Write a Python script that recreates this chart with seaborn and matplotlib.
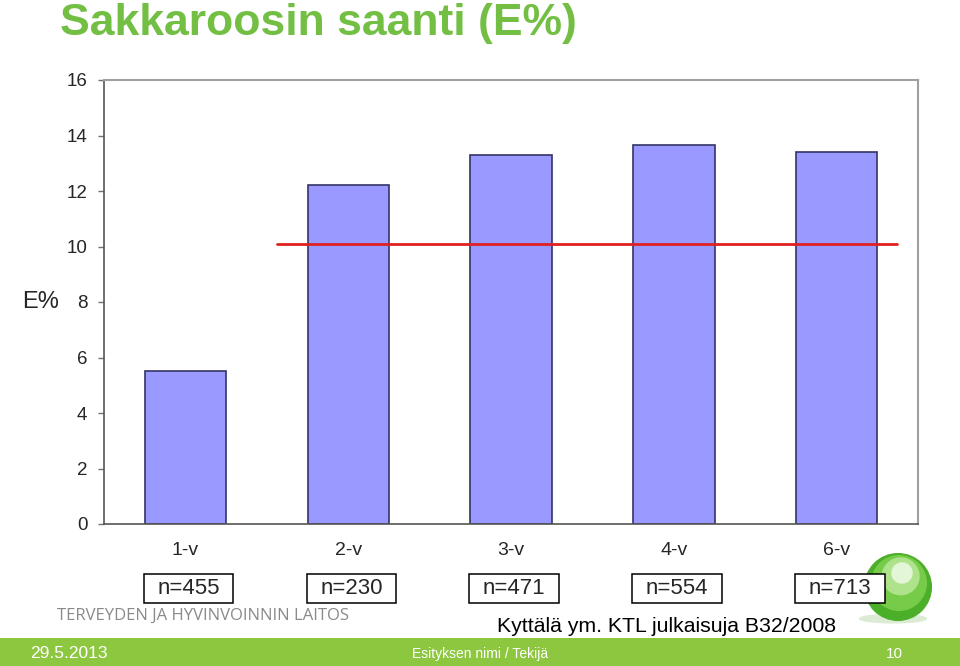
import matplotlib
matplotlib.use("Agg")
import matplotlib.pyplot as plt
import matplotlib.transforms as mtransforms
from matplotlib.patches import Rectangle, Circle, Ellipse
import seaborn as sns

# ---- data ----
categories = ["1-v", "2-v", "3-v", "4-v", "6-v"]
values = [5.5, 12.2, 13.3, 13.65, 13.4]
sample_sizes = ["n=455", "n=230", "n=471", "n=554", "n=713"]
reference_value = 10.1
y_ticks = [0, 2, 4, 6, 8, 10, 12, 14, 16]

title = "Sakkaroosin saanti (E%)"
y_label = "E%"
source = "Kyttälä ym. KTL julkaisuja B32/2008"
org = "TERVEYDEN JA HYVINVOINNIN LAITOS"
footer_left = "29.5.2013"
footer_mid = "Esityksen nimi / Tekijä"
footer_right = "10"

sns.set_theme(style="white")
plt.rcParams["font.family"] = ["Liberation Sans", "DejaVu Sans"]

fig = plt.figure(figsize=(9.6, 6.66), dpi=100)
fig.patch.set_facecolor("white")

# logo sphere (decoration) drawn first, behind the boxes
lax = fig.add_axes([858/960, 1-627/666, 80/960, 80/666])
lax.set_zorder(-1)
lax.set_xlim(-1.2, 1.2)
lax.set_ylim(-1.2, 1.2)
lax.set_aspect("equal")
lax.axis("off")
lax.add_patch(Ellipse((-0.15, -0.95), 2.0, 0.25, color="#DCEBD4", zorder=0))
lax.add_patch(Circle((0, 0), 1.0, color="#4CAF2A", zorder=1))
lax.add_patch(Circle((0.03, 0.12), 0.82, color="#76CC48", zorder=2))
lax.add_patch(Circle((0.08, 0.32), 0.55, color="#AEE38C", zorder=3))
lax.add_patch(Circle((0.12, 0.42), 0.3, color="#E4F6D8", zorder=4))

ax = fig.add_axes([104/960, 1-524/666, (918-104)/960, (524-80)/666])

sns.barplot(x=categories, y=values, color="#9999FF", edgecolor="#333366",
            linewidth=1.2, width=0.5, saturation=1, ax=ax)

# reference line
ax.plot([0.56, 4.37], [reference_value, reference_value], color="#E02020",
        linewidth=2, zorder=5)

ax.set_xlim(-0.5, 4.5)
ax.set_ylim(0, 16)
ax.set_yticks(y_ticks)
ax.set_yticklabels([str(t) for t in y_ticks], fontsize=13.5)
ax.set_xlabel("")
ax.set_ylabel("")
ax.tick_params(axis="y", which="both", left=True, length=4, width=1,
               color="#707070", pad=8)
ax.tick_params(axis="x", bottom=False, length=0, pad=13)
for lab in ax.get_xticklabels():
    lab.set_fontsize(14)
for s in ["top", "right"]:
    ax.spines[s].set_color("#A0A0A0")
    ax.spines[s].set_linewidth(1.5)
for s in ["left", "bottom"]:
    ax.spines[s].set_color("#555555")
    ax.spines[s].set_linewidth(1.2)

fig.text(22/960, 1-302/666, y_label, fontsize=17, ha="left", va="center")

# n= boxes
trans = mtransforms.blended_transform_factory(ax.transData, fig.transFigure)
box_w = 0.55
box_bottom = 1 - 603/666
box_h = 29/666
for i, n in enumerate(sample_sizes):
    xc = i + 0.02
    ax.add_patch(Rectangle((xc - box_w/2, box_bottom), box_w, box_h,
                           transform=trans, facecolor="white",
                           edgecolor="black", linewidth=1.1, clip_on=False,
                           zorder=10))
    ax.text(xc, box_bottom + box_h/2, n, transform=trans, ha="center",
            va="center", fontsize=16, clip_on=False, zorder=11)

# title
fig.text(60/960, 1-23/666, title, fontsize=32, fontweight="bold",
         color="#72BF44", ha="left", va="center")

# org text
fig.text(57/960, 1-616/666, org, fontsize=12, color="#8A8A8A",
         family=["Open Sans", "DejaVu Sans"], ha="left", va="center")

# source
fig.text(497/960, 1-626/666, source, fontsize=15.3,
         color="black", ha="left", va="center")

# footer band
fig.patches.append(Rectangle((0, 0), 1, 28/666, transform=fig.transFigure,
                             facecolor="#8DC63F", edgecolor="none", zorder=0))
fig.text(30/960, 12/666, footer_left, fontsize=12.5, color="white",
         ha="left", va="center")
fig.text(480/960, 12/666, footer_mid, fontsize=10, color="white",
         ha="center", va="center")
fig.text(894/960, 12/666, footer_right, fontsize=11, color="white",
         ha="center", va="center")

fig.savefig("out.png", dpi=100)
